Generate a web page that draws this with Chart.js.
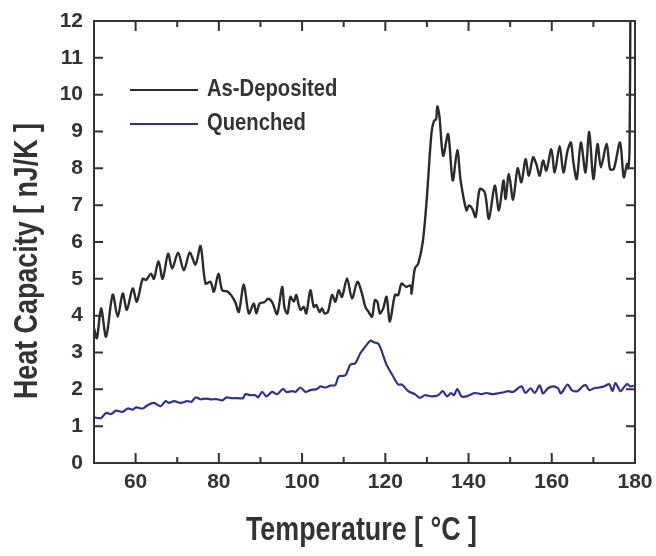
<!DOCTYPE html>
<html>
<head>
<meta charset="utf-8">
<script src="https://cdn.jsdelivr.net/npm/chart.js@4.4.1/dist/chart.umd.min.js"></script>
<style>
  html, body { margin: 0; padding: 0; background: #fff; }
  #wrap { width: 656px; height: 556px; }
</style>
</head>
<body>
<div id="wrap"><canvas id="c"></canvas></div>
<script>
// Heat capacity vs temperature, as-deposited / quenched films
const xTicks = [60, 80, 100, 120, 140, 160, 180];
const yTicks = [0, 1, 2, 3, 4, 5, 6, 7, 8, 9, 10, 11, 12];
const xTitle = 'Temperature [ °C ]';
const yTitle = 'Heat Capacity [ nJ/K ]';

const depT = [50, 50.7, 51.7, 52.9, 54.5, 55.7, 56.9, 57.9, 59.3, 60.3, 61.7, 62.5, 63.7, 64.4, 65.5, 66.5, 67.8, 68.8, 70.2, 71.6, 73, 74.4, 75.6, 76.8, 78, 78.8, 79.9, 80.8, 82, 83, 84, 84.8, 86, 87.2, 88.4, 89, 89.8, 91, 91.8, 92.8, 94, 95.2, 95.8, 96.5, 97.2, 98, 98.6, 99.2, 99.7, 100.4, 101, 102, 102.8, 103.4, 104.2, 104.8, 105.4, 106.2, 107.2, 108, 108.8, 109.6, 110.8, 112, 113.3, 114.4, 115.2, 116, 116.8, 117.5, 118.1, 118.7, 119.5, 120.3, 121.1, 122.3, 123.1, 123.9, 125, 126.1, 126.3, 127.1, 127.9, 129, 129.9, 131.1, 131.7, 132.2, 132.5, 133, 133.9, 135.1, 136.2, 137.3, 138.1, 139.5, 140.1, 140.9, 141.7, 142.7, 143.9, 144.9, 146.3, 147.3, 148.4, 148.9, 149.7, 150.7, 151.8, 152.7, 153.7, 154.5, 155.5, 156.3, 157.1, 157.9, 158.7, 159.9, 160.7, 161.9, 162.8, 163.8, 164.6, 165.2, 166, 167, 168.1, 169, 170, 171, 171.8, 173.2, 174, 174.9, 176.4, 177.3, 178.1, 178.4, 178.7, 178.9];
const depCp = [3.66, 3.39, 4.2, 3.43, 4.57, 3.97, 4.6, 4.16, 4.74, 4.38, 5.0, 4.97, 5.14, 5.0, 5.48, 5.0, 5.68, 5.28, 5.71, 5.23, 5.71, 5.39, 5.89, 4.87, 4.92, 4.65, 5.14, 4.69, 4.66, 4.55, 4.35, 4.1, 4.85, 4.06, 4.33, 4.06, 4.33, 4.37, 4.46, 4.37, 4.04, 4.78, 4.2, 4.06, 4.51, 4.38, 4.56, 4.29, 4.15, 4.24, 4.06, 4.69, 4.24, 4.29, 4.1, 4.2, 4.06, 4.1, 4.56, 4.38, 4.69, 4.51, 5.01, 4.47, 4.92, 4.6, 4.24, 4.1, 3.97, 4.42, 4.38, 4.06, 4.2, 4.51, 3.84, 4.56, 4.56, 4.87, 4.78, 4.82, 4.6, 5.28, 5.41, 6.0, 7.08, 8.97, 9.29, 9.33, 9.68, 9.42, 8.34, 8.93, 7.67, 8.5, 7.67, 6.86, 6.99, 6.9, 6.68, 7.44, 7.35, 6.63, 7.53, 6.86, 7.67, 7.17, 7.85, 7.15, 8.0, 7.62, 8.25, 7.8, 8.3, 8.11, 7.8, 8.21, 7.94, 8.52, 7.89, 8.61, 7.89, 8.48, 8.7, 8.16, 7.71, 8.7, 7.89, 8.99, 7.71, 8.66, 8.03, 8.66, 7.98, 7.98, 8.7, 7.76, 8.12, 8.0, 8.6, 12.6];

const queT = [50, 51.7, 52.9, 54.1, 55.3, 56.9, 58.1, 59.3, 60.1, 61.7, 62.9, 64.4, 66, 67.2, 68, 69.2, 70.8, 72.4, 73.4, 74.4, 75.6, 76.8, 78, 79.6, 80.8, 81.9, 83, 84.6, 85.8, 86.4, 87.6, 88.8, 89.4, 90.4, 91.4, 92.8, 94, 95.4, 96.2, 97.6, 98.4, 99.6, 100.8, 102, 103.6, 104.4, 105.6, 106.8, 108, 108.8, 110.4, 111.6, 112.8, 114, 115.2, 116.4, 117.2, 118.4, 120.3, 121.9, 123.1, 124, 125.5, 127.1, 128.3, 129.5, 131.1, 132.7, 133.8, 134.8, 135.8, 136.5, 137.3, 138.3, 139.5, 141.5, 143.1, 144.3, 145.9, 147.5, 148.5, 149.5, 150.7, 152.7, 153.7, 154.9, 155.9, 157.1, 157.9, 159.1, 160.3, 161.5, 162.2, 163.8, 164.8, 166.2, 167.4, 168.2, 169, 170.2, 171.4, 172.6, 173.8, 174.6, 175.3, 176.5, 177.3, 178.1, 178.9, 179.7];
const queCp = [1.24, 1.22, 1.36, 1.33, 1.42, 1.39, 1.48, 1.45, 1.51, 1.48, 1.57, 1.63, 1.54, 1.68, 1.63, 1.68, 1.63, 1.68, 1.66, 1.78, 1.73, 1.75, 1.73, 1.73, 1.7, 1.78, 1.76, 1.76, 1.76, 1.87, 1.84, 1.84, 1.78, 1.93, 1.81, 1.93, 1.87, 2.01, 1.93, 1.95, 1.93, 2.05, 1.93, 1.98, 2.01, 2.08, 2.05, 2.1, 2.12, 2.35, 2.38, 2.67, 2.71, 2.98, 3.16, 3.32, 3.28, 3.23, 2.67, 2.35, 2.13, 2.13, 1.95, 1.87, 1.77, 1.84, 1.81, 1.84, 1.95, 1.81, 1.9, 1.84, 2.01, 1.81, 1.81, 1.9, 1.87, 1.9, 1.87, 1.9, 1.92, 1.95, 1.93, 2.08, 1.9, 2.03, 1.9, 2.11, 1.89, 2.03, 2.08, 2.03, 1.89, 2.13, 1.98, 1.95, 2.08, 2.11, 1.98, 2.03, 2.05, 2.08, 2.14, 1.95, 2.17, 1.95, 2.05, 2.14, 2.08, 2.1];

const FONT = "'Liberation Sans', Arial, sans-serif";
const INK = '#333';
const SQUEEZE = 0.79; // the original lettering is a condensed face

// frame with inward ticks on all four sides
const frameTicks = {
  id: 'frameTicks',
  afterDraw(chart) {
    const {ctx, chartArea: a, scales: {x, y}} = chart;
    ctx.save();
    ctx.strokeStyle = INK;
    ctx.lineWidth = 2;
    ctx.strokeRect(a.left, a.top, a.right - a.left, a.bottom - a.top);
    ctx.beginPath();
    for (let v = 50; v <= 180; v += 10) {
      const px = x.getPixelForValue(v);
      const len = v % 20 === 0 ? 10 : 6;
      ctx.moveTo(px, a.bottom); ctx.lineTo(px, a.bottom - len);
      ctx.moveTo(px, a.top); ctx.lineTo(px, a.top + len);
    }
    yTicks.forEach(v => {
      const py = y.getPixelForValue(v);
      ctx.moveTo(a.left, py); ctx.lineTo(a.left + 9, py);
      ctx.moveTo(a.right, py); ctx.lineTo(a.right - 9, py);
    });
    ctx.stroke();
    ctx.restore();
  }
};

// axis titles, squeezed horizontally
const axisTitles = {
  id: 'axisTitles',
  afterDraw(chart) {
    const {ctx, chartArea: a} = chart;
    ctx.save();
    ctx.font = 'bold 34px ' + FONT;
    ctx.fillStyle = INK;
    ctx.textAlign = 'center';
    ctx.textBaseline = 'middle';
    ctx.save();
    ctx.translate((a.left + a.right) / 2 - 3, 531);
    ctx.scale(SQUEEZE, 1);
    ctx.fillText(xTitle, 0, 0);
    ctx.restore();
    ctx.save();
    ctx.translate(28, 261);
    ctx.rotate(-Math.PI / 2);
    ctx.scale(SQUEEZE, 1);
    ctx.fillText(yTitle, 0, 0);
    ctx.restore();
    ctx.restore();
  }
};

// legend drawn inside the plot, upper left
const innerLegend = {
  id: 'innerLegend',
  afterDraw(chart) {
    const {ctx, chartArea: a} = chart;
    ctx.save();
    ctx.font = 'bold 23px ' + FONT;
    ctx.textBaseline = 'middle';
    chart.data.datasets.forEach((ds, i) => {
      const yy = a.top + 69 + i * 34;
      ctx.strokeStyle = ds.borderColor;
      ctx.lineWidth = 2;
      ctx.beginPath();
      ctx.moveTo(a.left + 36, yy); ctx.lineTo(a.left + 104, yy);
      ctx.stroke();
      ctx.save();
      ctx.translate(a.left + 113, yy);
      ctx.scale(0.88, 1);
      ctx.fillStyle = INK;
      ctx.fillText(ds.label, 0, 0);
      ctx.restore();
    });
    ctx.restore();
  }
};

new Chart(document.getElementById('c'), {
  type: 'line',
  data: {
    datasets: [
      { label: 'As-Deposited', data: depT.map((t, i) => ({x: t, y: depCp[i]})),
        borderColor: '#2b2b2b', borderWidth: 2.4, pointRadius: 0, tension: 0.3 },
      { label: 'Quenched', data: queT.map((t, i) => ({x: t, y: queCp[i]})),
        borderColor: '#2e3192', borderWidth: 2.2, pointRadius: 0, tension: 0.3 }
    ]
  },
  options: {
    responsive: true,
    maintainAspectRatio: false,
    animation: false,
    layout: { padding: { top: 21, right: 21, left: 0, bottom: 0 } },
    plugins: { legend: { display: false }, tooltip: { enabled: false } },
    scales: {
      x: {
        type: 'linear', min: 50, max: 180,
        border: { display: false },
        grid: { display: false, drawTicks: false },
        afterBuildTicks: s => { s.ticks = xTicks.map(v => ({value: v})); },
        afterFit: s => { s.height = 93; s.paddingLeft = 0; s.paddingRight = 0; },
        ticks: { color: INK, padding: 7, font: { family: FONT, size: 21, weight: 'bold' } },
        title: { display: false }
      },
      y: {
        min: 0, max: 12,
        border: { display: false },
        grid: { display: false, drawTicks: false },
        afterBuildTicks: s => { s.ticks = yTicks.map(v => ({value: v})); },
        afterFit: s => { s.width = 94; s.paddingTop = 0; s.paddingBottom = 0; },
        ticks: { color: INK, padding: 11, font: { family: FONT, size: 21, weight: 'bold' } },
        title: { display: false }
      }
    }
  },
  plugins: [frameTicks, axisTitles, innerLegend]
});
</script>
</body>
</html>
